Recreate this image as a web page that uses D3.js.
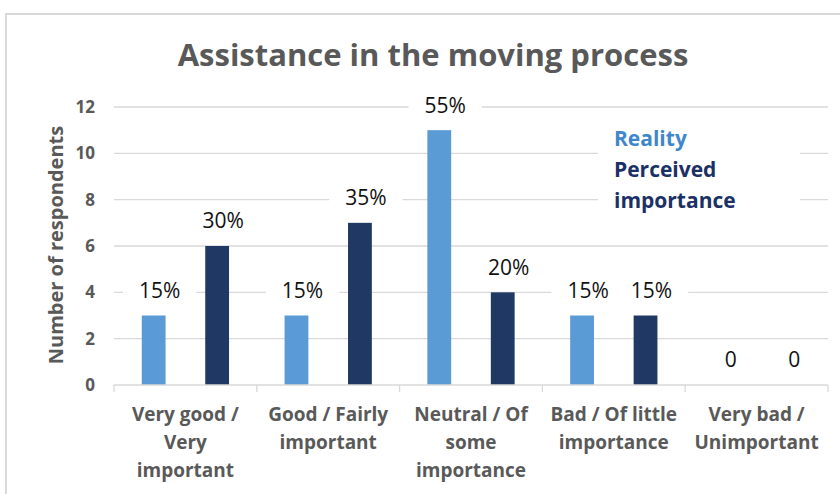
<!DOCTYPE html>
<html>
<head>
<meta charset="utf-8">
<script src="https://cdn.jsdelivr.net/npm/d3@7"></script>
<style>
  html, body { margin: 0; padding: 0; background: #fff; }
  svg { display: block; }
  text { font-family: "Open Sans", Lato, sans-serif; }
</style>
</head>
<body>
<svg id="chart" width="840" height="494"></svg>
<script>
// ---- data ----
const categories = [
  ["Very good /", "Very", "important"],
  ["Good / Fairly", "important"],
  ["Neutral / Of", "some", "importance"],
  ["Bad / Of little", "importance"],
  ["Very bad /", "Unimportant"]
];
const seriesNames = ["Reality", "Perceived importance"];
const realityValues = [3, 3, 11, 3, 0];
const perceivedValues = [6, 7, 4, 3, 0];
const realityLabels = ["15%", "15%", "55%", "15%", "0"];
const perceivedLabels = ["30%", "35%", "20%", "15%", "0"];
const yTicks = [0, 2, 4, 6, 8, 10, 12];
const titleText = "Assistance in the moving process";
const yTitle = "Number of respondents";
const legendLines = [["Reality"], ["Perceived", "importance"]];

// ---- layout ----
const svg = d3.select("#chart");
const W = 840, H = 494;
const plot = { left: 114, right: 828, top: 107, bottom: 385 };
const colors = ["#5B9BD5", "#203864"];
const legendColors = ["#3F87CB", "#1B3166"];
const gray = "#595959";
const gridColor = "#D9D9D9";
const FONT = "'Open Sans', Lato, sans-serif";

// chart border
svg.append("rect")
  .attr("x", 6).attr("y", 14).attr("width", W + 10).attr("height", H + 10)
  .attr("fill", "#fff").attr("stroke", "#D9D9D9").attr("stroke-width", 2);

const idx = d3.range(categories.length);
const x0 = d3.scaleBand().domain(idx).range([plot.left, plot.right]).paddingInner(0).paddingOuter(0);
const x1 = d3.scaleBand().domain(d3.range(seriesNames.length))
  .range([0, x0.bandwidth()]).paddingInner(0.625).paddingOuter(0.4375);
const y = d3.scaleLinear().domain([0, 12]).range([plot.bottom, plot.top]);

// gridlines
svg.append("g")
  .selectAll("line").data(yTicks.filter(t => t > 0)).join("line")
  .attr("x1", plot.left).attr("x2", plot.right)
  .attr("y1", d => y(d)).attr("y2", d => y(d))
  .attr("stroke", gridColor).attr("stroke-width", 1.3);

// title
svg.append("text")
  .attr("x", 433).attr("y", 66)
  .attr("text-anchor", "middle")
  .attr("font-size", 31).attr("font-weight", 700).attr("fill", gray)
  .text(titleText);

// y axis
const yAxis = d3.axisLeft(y).tickValues(yTicks).tickSize(0).tickPadding(19);
const gy = svg.append("g").attr("transform", `translate(${plot.left},0)`).call(yAxis);
gy.select(".domain").remove();
gy.selectAll("text")
  .attr("font-family", FONT)
  .attr("font-size", 17).attr("font-weight", 700).attr("fill", gray);

// y title
svg.append("text")
  .attr("transform", `translate(63,245) rotate(-90)`)
  .attr("text-anchor", "middle")
  .attr("font-size", 20).attr("font-weight", 700).attr("fill", gray)
  .text(yTitle);

// data label items
const labelItems = [];
idx.forEach(i => {
  labelItems.push({ i, s: 0, v: realityValues[i], t: realityLabels[i] });
  labelItems.push({ i, s: 1, v: perceivedValues[i], t: perceivedLabels[i] });
});
const cx = d => x0(d.i) + x1(d.s) + x1.bandwidth() / 2 + 6;
const cy = d => y(d.v) - 25;

// label backgrounds (white boxes hiding gridlines)
const labelG = svg.append("g");
const labelTexts = labelG.selectAll("text").data(labelItems).join("text")
  .attr("x", cx).attr("y", cy)
  .attr("dy", "0.35em")
  .attr("text-anchor", "middle")
  .attr("font-size", 21).attr("fill", "#111")
  .text(d => d.t);
labelTexts.each(function(d) {
  const bb = this.getBBox();
  labelG.insert("rect", "text")
    .attr("x", bb.x - 16).attr("y", cy(d) - 15)
    .attr("width", bb.width + 32).attr("height", 30)
    .attr("fill", "#fff");
});

// legend background
svg.append("rect")
  .attr("x", 598).attr("y", 120).attr("width", 202).attr("height", 96)
  .attr("fill", "#fff");

// bars
svg.append("g").selectAll("g").data(idx).join("g")
  .attr("transform", i => `translate(${x0(i)},0)`)
  .selectAll("rect")
  .data(i => [realityValues[i], perceivedValues[i]].map((v, s) => ({ v, s })))
  .join("rect")
  .attr("x", d => x1(d.s)).attr("width", x1.bandwidth())
  .attr("y", d => y(d.v)).attr("height", d => plot.bottom - y(d.v))
  .attr("fill", d => colors[d.s]);

// raise labels above bars
labelG.raise();

// x axis
const xAxisLine = svg.append("g");
xAxisLine.append("line")
  .attr("x1", plot.left).attr("x2", plot.right)
  .attr("y1", plot.bottom).attr("y2", plot.bottom)
  .attr("stroke", gridColor).attr("stroke-width", 1.3);
xAxisLine.selectAll("line.tick").data(idx.concat([categories.length])).join("line")
  .attr("class", "tick")
  .attr("x1", i => i < categories.length ? x0(i) : plot.right)
  .attr("x2", i => i < categories.length ? x0(i) : plot.right)
  .attr("y1", plot.bottom).attr("y2", plot.bottom + 7)
  .attr("stroke", gridColor).attr("stroke-width", 1.3);

const xl = svg.append("g").selectAll("text").data(idx).join("text")
  .attr("x", i => x0(i) + x0.bandwidth() / 2)
  .attr("y", 421)
  .attr("text-anchor", "middle")
  .attr("font-size", 19).attr("font-weight", 700).attr("fill", gray);
xl.selectAll("tspan").data(i => categories[i].map((t, k) => ({ t, k, i }))).join("tspan")
  .attr("x", d => x0(d.i) + x0.bandwidth() / 2)
  .attr("dy", d => d.k === 0 ? 0 : 28)
  .text(d => d.t);

// legend
let ly = 146;
legendLines.forEach((lines, s) => {
  lines.forEach(line => {
    svg.append("text")
      .attr("x", 614).attr("y", ly)
      .attr("font-size", 21).attr("font-weight", 700)
      .attr("fill", legendColors[s])
      .text(line);
    ly += 31;
  });
});
</script>
</body>
</html>
